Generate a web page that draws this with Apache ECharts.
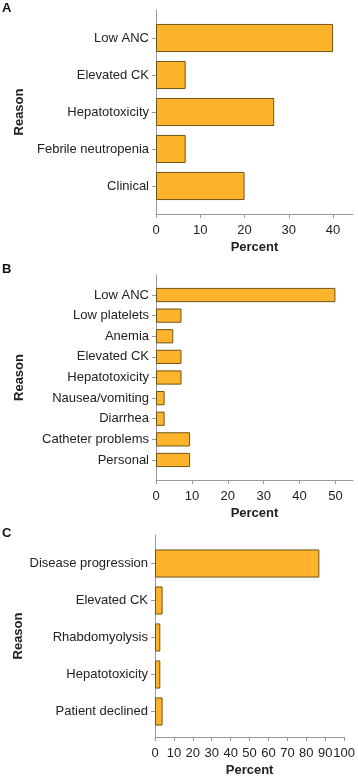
<!DOCTYPE html>
<html>
<head>
<meta charset="utf-8">
<script src="https://cdn.jsdelivr.net/npm/echarts@6/dist/echarts.min.js"></script>
<style>
  html, body { margin: 0; padding: 0; background: #fff; }
  #chart { width: 358px; height: 778px; }
</style>
</head>
<body>
<div id="chart"></div>
<script>
// panel A
var reasonsA = ['Low ANC', 'Elevated CK', 'Hepatotoxicity', 'Febrile neutropenia', 'Clinical'];
var percentA = [40, 6.7, 26.7, 6.7, 20];
var ticksA = [0, 10, 20, 30, 40];

// panel B
var reasonsB = ['Low ANC', 'Low platelets', 'Anemia', 'Elevated CK', 'Hepatotoxicity',
    'Nausea/vomiting', 'Diarrhea', 'Catheter problems', 'Personal'];
var percentB = [50, 7.1, 4.8, 7.1, 7.1, 2.4, 2.4, 9.5, 9.5];
var ticksB = [0, 10, 20, 30, 40, 50];

// panel C
var reasonsC = ['Disease progression', 'Elevated CK', 'Rhabdomyolysis', 'Hepatotoxicity', 'Patient declined'];
var percentC = [86.5, 4.0, 2.8, 2.8, 4.0];
var ticksC = [0, 10, 20, 30, 40, 50, 60, 70, 80, 90, 100];

var FONT = '"Liberation Sans", Arial, sans-serif';
var AXIS_GRAY = '#999';
var TEXT = '#222';

var chart = echarts.init(document.getElementById('chart'));

// each panel: an outer grid that carries the axis lines, an inner one for the bars
var panels = [
    { letter: 'A', letterTop: 2, cats: reasonsA, vals: percentA, ticks: ticksA, max: 44.5,
      left: 156, right: 5, top: 10, axisY: 214, pad: 9.5, gap: '24%' },
    { letter: 'B', letterTop: 263, cats: reasonsB, vals: percentB, ticks: ticksB, max: 54.9,
      left: 156, right: 5, top: 275, axisY: 480, pad: 9.7, gap: '31%' },
    { letter: 'C', letterTop: 527, cats: reasonsC, vals: percentC, ticks: ticksC, max: 100,
      left: 155, right: 13, top: 535, axisY: 740, pad: 10, gap: '24%' }
];

var H = 778;
var grid = [], xAxis = [], yAxis = [], series = [], title = [];

panels.forEach(function (p, i) {
    var o = i * 2, n = i * 2 + 1;
    grid.push({ left: p.left, right: p.right, top: p.top, bottom: H - p.axisY });
    grid.push({ left: p.left, right: p.right, top: p.top + p.pad, bottom: H - p.axisY + p.pad });

    title.push({
        text: p.letter, left: 2, top: p.letterTop, padding: 0,
        textStyle: { fontFamily: FONT, fontSize: 13, fontWeight: 'bold', color: '#111' }
    });

    xAxis.push({
        type: 'value', gridIndex: o, min: 0, max: p.max,
        axisLine: { show: true, lineStyle: { color: AXIS_GRAY, width: 1 } },
        axisTick: { show: true, length: 4, lineStyle: { color: AXIS_GRAY }, customValues: p.ticks },
        axisLabel: { color: TEXT, fontFamily: FONT, fontSize: 13, margin: 10, customValues: p.ticks },
        splitLine: { show: false },
        name: 'Percent', nameLocation: 'middle', nameGap: 27,
        nameTextStyle: { fontFamily: FONT, fontSize: 13, fontWeight: 'bold', color: TEXT }
    });
    xAxis.push({ type: 'value', gridIndex: n, min: 0, max: p.max, show: false });

    yAxis.push({
        type: 'value', gridIndex: o, min: 0, max: 1,
        axisLine: { show: true, lineStyle: { color: AXIS_GRAY, width: 1 } },
        axisTick: { show: false }, axisLabel: { show: false }, splitLine: { show: false },
        name: 'Reason', nameLocation: 'middle', nameGap: 130, nameRotate: 90,
        nameTextStyle: { fontFamily: FONT, fontSize: 13, fontWeight: 'bold', color: TEXT }
    });
    yAxis.push({
        type: 'category', gridIndex: n, data: p.cats, inverse: true,
        axisLine: { show: false },
        axisTick: { show: true, length: 4, alignWithLabel: true, lineStyle: { color: AXIS_GRAY } },
        axisLabel: { color: TEXT, fontFamily: FONT, fontSize: 13, margin: 7 }
    });

    series.push({
        type: 'bar', xAxisIndex: n, yAxisIndex: n, data: p.vals,
        barCategoryGap: p.gap, silent: true,
        itemStyle: { color: '#FDB42B', borderColor: '#6E5416', borderWidth: 1 }
    });
});

chart.setOption({
    animation: false,
    backgroundColor: '#fff',
    title: title,
    grid: grid,
    xAxis: xAxis,
    yAxis: yAxis,
    series: series
});
</script>
</body>
</html>
